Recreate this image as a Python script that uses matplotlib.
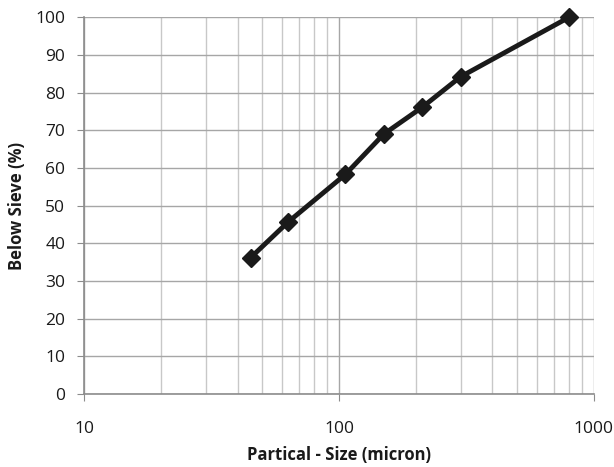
import matplotlib
matplotlib.use("Agg")
import matplotlib.pyplot as plt
from matplotlib.ticker import FixedLocator, NullFormatter

size_micron = [45, 63, 106, 150, 212, 300, 800]
below_sieve = [36.2, 45.6, 58.3, 69.0, 76.1, 84.2, 100.0]
x_ticks = [10, 100, 1000]
x_tick_labels = ["10", "100", "1000"]
y_ticks = list(range(0, 101, 10))

plt.rcParams['font.family'] = ['Open Sans', 'DejaVu Sans']

fig = plt.figure(figsize=(6.14, 4.67), dpi=100)
ax = fig.add_axes([0.137, 0.156, 0.830, 0.807])

ax.set_xscale('log')
ax.set_xlim(10, 1000)
ax.set_ylim(0, 100)

ax.xaxis.set_major_locator(FixedLocator(x_ticks))
ax.set_xticklabels(x_tick_labels)
minor = [m * d for d in (10, 100) for m in range(2, 10)]
ax.xaxis.set_minor_locator(FixedLocator(minor))
ax.xaxis.set_minor_formatter(NullFormatter())
ax.set_yticks(y_ticks)

ax.grid(True, which='major', color='#a6a6a6', linewidth=1.0)
ax.grid(True, which='minor', axis='x', color='#c8c8c8', linewidth=1.0)
ax.set_axisbelow(True)

for s in ('top', 'right'):
    ax.spines[s].set_visible(False)
for s in ('left', 'bottom'):
    ax.spines[s].set_color('#8c8c8c')
    ax.spines[s].set_linewidth(1.2)

ax.tick_params(axis='both', which='major', direction='out', length=5, color='#8c8c8c',
               labelsize=12.5, labelcolor='#1a1a1a', pad=8.5)
ax.tick_params(axis='x', which='major', pad=14)
ax.tick_params(axis='x', which='minor', length=0)

ax.plot(size_micron, below_sieve, color='#1a1a1a', linewidth=3.5, marker='D',
        markersize=9, markerfacecolor='#1a1a1a', markeredgecolor='#1a1a1a',
        solid_joinstyle='round', solid_capstyle='round', clip_on=False, zorder=5)

ax.set_xlabel('Partical - Size (micron)', fontsize=12, fontweight='bold', labelpad=7, color='#1a1a1a')
ax.set_ylabel('Below Sieve (%)', fontsize=12, fontweight='bold', labelpad=6.5, color='#1a1a1a')

fig.savefig('out.png', dpi=100)
